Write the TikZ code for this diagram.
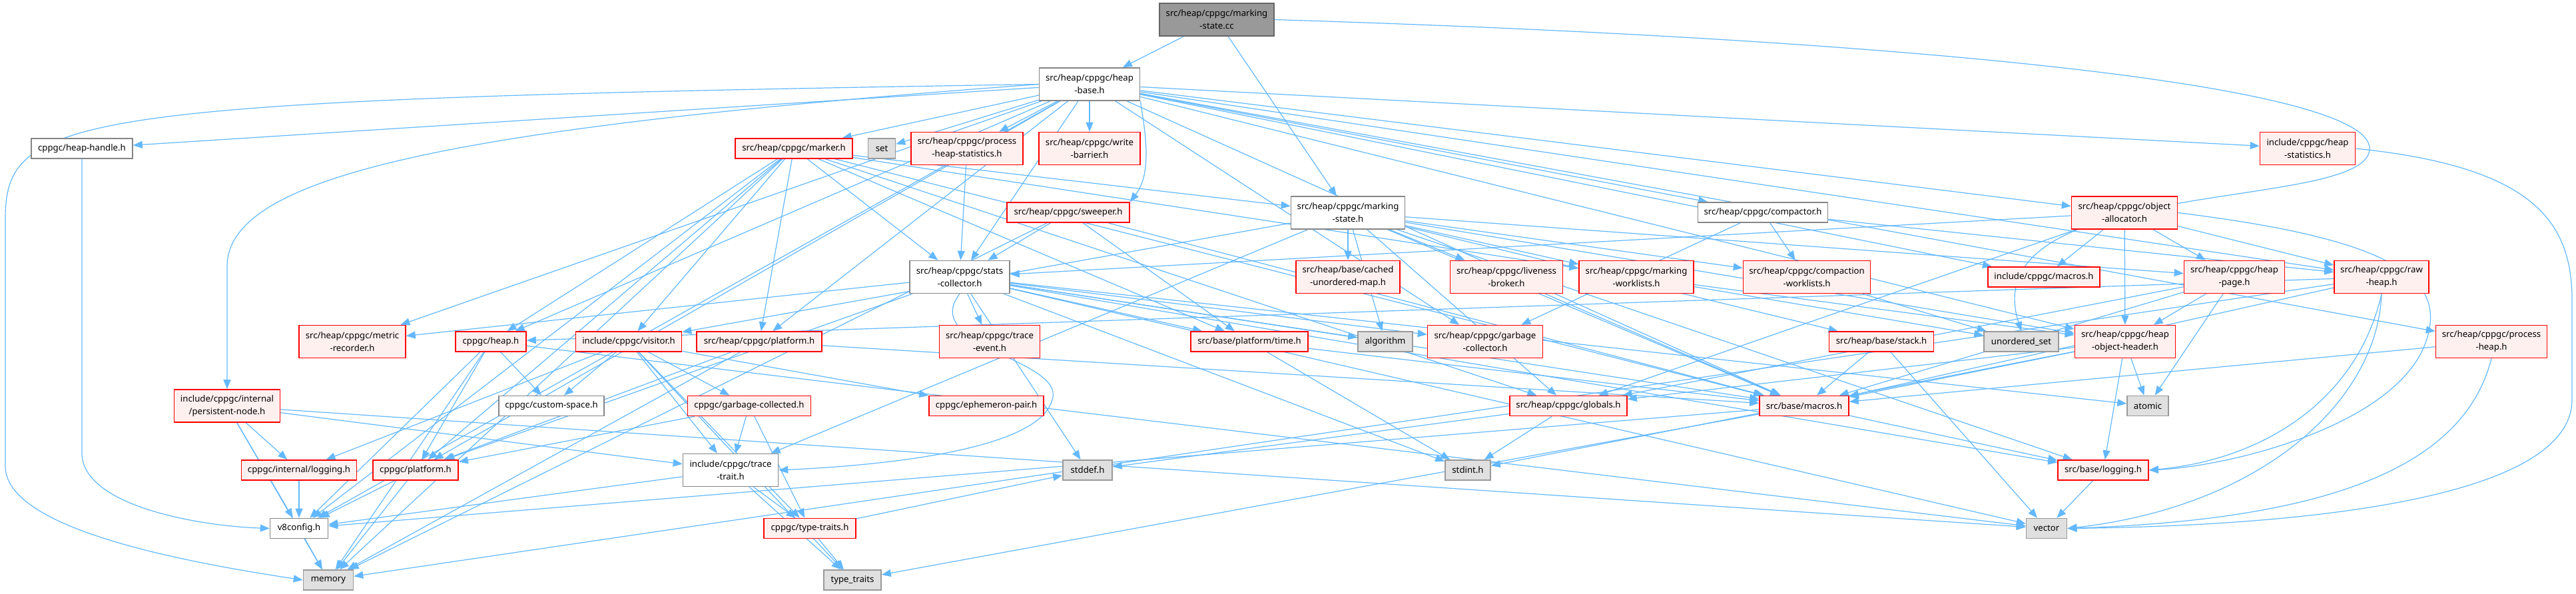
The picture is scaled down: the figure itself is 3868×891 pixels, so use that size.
\documentclass[tikz,border=0pt]{standalone}
\usepackage{fontspec}
\setmainfont{Noto Sans}
\usetikzlibrary{arrows.meta,backgrounds}

\definecolor{edgeblue}{HTML}{63B8FF}
\definecolor{redfill}{HTML}{FFF0F0}
\definecolor{grayfill}{HTML}{E0E0E0}
\definecolor{grayline}{HTML}{999999}
\definecolor{rootfill}{HTML}{999999}
\definecolor{rootline}{HTML}{666666}

\begin{document}
\begin{tikzpicture}[x=0.5pt,y=-0.5pt,>={Triangle[length=7pt,width=5.5pt]},
  every node/.style={font=\fontsize{6.6}{9.5}\selectfont,align=center,inner sep=0pt,minimum height=15pt,line width=0.8pt},
  filebox/.style={draw=rootline!80,fill=white},
  redbox/.style={draw=red,fill=redfill},
  sysbox/.style={draw=grayline,fill=grayfill},
  rootbox/.style={draw=rootline,fill=rootfill},
  tall/.style={minimum height=24.5pt},
  dep/.style={->,draw=edgeblue,line width=0.6pt}]
\useasboundingbox (0,0) rectangle (3868,891);

% files
\node[rootbox,tall,minimum width=86pt] (cc) at (1827,29.5) {src/heap/cppgc/marking\\-state.cc};
\node[filebox,tall,minimum width=75.5pt] (hbase) at (1636,126.5) {src/heap/cppgc/heap\\-base.h};
\node[filebox,minimum width=76pt] (hhandle) at (123,223) {cppgc/heap-handle.h};
\node[redbox,minimum width=88pt] (marker) at (1192,223) {src/heap/cppgc/marker.h};
\node[sysbox,minimum width=20.5pt] (set) at (1324,223) {set};
\node[redbox,tall,minimum width=84pt] (phstat) at (1452,223) {src/heap/cppgc/process\\-heap-statistics.h};
\node[redbox,tall,minimum width=76pt] (wbar) at (1636,223) {src/heap/cppgc/write\\-barrier.h};
\node[redbox,tall,minimum width=71.5pt] (hstat) at (3465,223) {include/cppgc/heap\\-statistics.h};
\node[redbox,minimum width=92pt] (sweeper) at (1604,319) {src/heap/cppgc/sweeper.h};
\node[filebox,tall,minimum width=85.5pt] (mstate) at (2024,319.5) {src/heap/cppgc/marking\\-state.h};
\node[filebox,minimum width=97.5pt] (compactor) at (2647,319) {src/heap/cppgc/compactor.h};
\node[redbox,tall,minimum width=79.5pt] (objalloc) at (3190,319.5) {src/heap/cppgc/object\\-allocator.h};
\node[filebox,tall,minimum width=75pt] (stats) at (1441,416) {src/heap/cppgc/stats\\-collector.h};
\node[redbox,tall,minimum width=78pt] (cmap) at (2024,416) {src/heap/base/cached\\-unordered-map.h};
\node[redbox,tall,minimum width=84.5pt] (live) at (2262,416) {src/heap/cppgc/liveness\\-broker.h};
\node[redbox,tall,minimum width=86pt] (mwl) at (2457,416) {src/heap/cppgc/marking\\-worklists.h};
\node[redbox,tall,minimum width=95.5pt] (cwl) at (2713,416) {src/heap/cppgc/compaction\\-worklists.h};
\node[redbox,minimum width=84pt] (imacros) at (3069,416) {include/cppgc/macros.h};
\node[redbox,tall,minimum width=75.5pt] (hpage) at (3355,416) {src/heap/cppgc/heap\\-page.h};
\node[redbox,tall,minimum width=71pt] (rawheap) at (3576,416) {src/heap/cppgc/raw\\-heap.h};
\node[redbox,tall,minimum width=80pt] (metric) at (529,513) {src/heap/cppgc/metric\\-recorder.h};
\node[redbox,minimum width=53pt] (heaph) at (737,513) {cppgc/heap.h};
\node[redbox,minimum width=79.5pt] (visitor) at (944,513) {include/cppgc/visitor.h};
\node[redbox,minimum width=94pt] (splat) at (1140,513) {src/heap/cppgc/platform.h};
\node[redbox,tall,minimum width=75.5pt] (tevent) at (1486,513) {src/heap/cppgc/trace\\-event.h};
\node[redbox,minimum width=88pt] (time) at (1876,513) {src/base/platform/time.h};
\node[sysbox,minimum width=41pt] (algorithm) at (2080,513) {algorithm};
\node[redbox,tall,minimum width=86.5pt] (gcollector) at (2230,513) {src/heap/cppgc/garbage\\-collector.h};
\node[redbox,minimum width=78.5pt] (stack) at (2825,513) {src/heap/base/stack.h};
\node[sysbox,minimum width=56pt] (uset) at (3035,513) {unordered\_set};
\node[redbox,tall,minimum width=75.5pt] (hoh) at (3191,513) {src/heap/cppgc/heap\\-object-header.h};
\node[redbox,tall,minimum width=83.5pt] (pheap) at (3741,513) {src/heap/cppgc/process\\-heap.h};
\node[redbox,tall,minimum width=79.5pt] (pnode) at (341,609.5) {include/cppgc/internal\\/persistent-node.h};
\node[filebox,minimum width=79pt] (custom) at (828,609.5) {cppgc/custom-space.h};
\node[redbox,minimum width=92.5pt] (gcoll) at (1125,609.5) {cppgc/garbage-collected.h};
\node[redbox,minimum width=86pt] (ephem) at (1481,609.5) {cppgc/ephemeron-pair.h};
\node[redbox,minimum width=88pt] (globals) at (2355,609.5) {src/heap/cppgc/globals.h};
\node[redbox,minimum width=67pt] (bmacros) at (2709,609.5) {src/base/macros.h};
\node[sysbox,minimum width=31pt] (atomic) at (3225,609.5) {atomic};
\node[redbox,minimum width=86.5pt] (ilog) at (449,706) {cppgc/internal/logging.h};
\node[redbox,minimum width=64pt] (cplat) at (624,706) {cppgc/platform.h};
\node[filebox,tall,minimum width=71.5pt] (trace) at (1097,706) {include/cppgc/trace\\-trait.h};
\node[sysbox,minimum width=37pt] (stddef) at (1633,706) {stddef.h};
\node[sysbox,minimum width=34pt] (stdint) at (2204,706) {stdint.h};
\node[redbox,minimum width=68pt] (blog) at (3158,706) {src/base/logging.h};
\node[filebox,minimum width=43.5pt] (v8cfg) at (449,793.5) {v8config.h};
\node[redbox,minimum width=69pt] (ttraits) at (1216,793.5) {cppgc/type-traits.h};
\node[sysbox,minimum width=30.5pt] (vector) at (3073,793.5) {vector};
\node[sysbox,minimum width=37.5pt] (memory) at (493,871) {memory};
\node[sysbox,minimum width=43pt] (typetr) at (1280,871) {type\_traits};

% includes
\begin{pgfonlayer}{background}
\foreach \dst in {hbase,mstate} \draw[dep] (cc) -- (\dst);
\draw[dep] (cc.east) .. controls (2900,60) and (3558,130) .. (3558,223)
  .. controls (3558,320) and (2960,260) .. (uset.north);
\foreach \dst in {hhandle,heaph,metric,marker,set,phstat,wbar,stats,splat,compactor,objalloc,imacros,hstat,rawheap,pheap,gcollector,hoh,bmacros,cplat,v8cfg}
  \draw[dep] (hbase) -- (\dst);
\draw[dep] (hbase.south east) .. controls (1720,200) and (1730,260) .. (sweeper.north east);
\draw[dep] (hbase.west) .. controls (100,150) and (8,170) .. (8,330) -- (8,700)
  .. controls (8,790) and (250,840) .. (memory.west);
\draw[dep] (hbase.west) .. controls (700,190) and (341,260) .. (341,400) -- (pnode.north);
\draw[dep] (hhandle.south) -- (123,680) .. controls (123,760) and (300,790) .. (v8cfg.west);
\foreach \dst in {heaph,visitor,splat,memory,bmacros,time,globals,mstate,mwl,stats,cplat,v8cfg}
  \draw[dep] (marker) -- (\dst);
\foreach \dst in {cmap,live,mwl,cwl,algorithm,globals,hoh,hpage,stack,bmacros,blog,visitor,trace}
  \draw[dep] (mstate) -- (\dst);
\foreach \dst in {stats,memory,bmacros,time} \draw[dep] (sweeper) -- (\dst);
\draw[dep] (phstat) -- (stats);
\foreach \dst in {metric,tevent,time,algorithm,gcollector,stddef,stdint,atomic,vector,cplat,bmacros,blog}
  \draw[dep] (stats) -- (\dst);
\draw[dep] (stats.south) .. controls (1380,520) and (1600,540) .. (1580,600)
  .. controls (1560,680) and (1300,700) .. (trace.east);
\foreach \dst in {cwl,gcollector,rawheap} \draw[dep] (compactor) -- (\dst);
\foreach \dst in {imacros,hpage,rawheap,hoh,globals,stats} \draw[dep] (objalloc) -- (\dst);
\draw[dep] (objalloc.east) .. controls (3600,360) and (3680,420) .. (3640,520)
  .. controls (3590,640) and (3350,700) .. (blog.east);
\draw[dep] (hstat.east) .. controls (3800,250) and (3862,330) .. (3862,450) -- (3862,600)
  .. controls (3862,760) and (3400,790) .. (vector.east);
\foreach \dst in {atomic,hoh,bmacros,globals} \draw[dep] (hpage) -- (\dst);
\foreach \dst in {memory,heaph,bmacros} \draw[dep] (rawheap) -- (\dst);
\draw[dep] (rawheap.south) .. controls (3570,600) and (3400,760) .. (vector.east);
\draw[dep] (rawheap.south) .. controls (3540,600) and (3400,690) .. (blog.east);
\draw[dep] (pheap) -- (bmacros);
\draw[dep] (pheap.south) .. controls (3700,700) and (3500,780) .. (vector.east);
\foreach \dst in {stdint,atomic,blog,bmacros,globals} \draw[dep] (hoh) -- (\dst);
\foreach \dst in {bmacros,vector} \draw[dep] (stack) -- (\dst);
\foreach \dst in {stddef,stdint} \draw[dep] (globals) -- (\dst);
\foreach \dst in {blog,typetr,v8cfg} \draw[dep] (bmacros) -- (\dst);
\draw[dep] (blog) -- (vector);
\foreach \dst in {custom,cplat,memory,vector,v8cfg} \draw[dep] (heaph) -- (\dst);
\foreach \dst in {custom,ephem,gcoll,ilog,trace,ttraits,typetr} \draw[dep] (visitor) -- (\dst);
\foreach \dst in {cplat,bmacros,memory} \draw[dep] (splat) -- (\dst);
\foreach \dst in {cplat,trace,ttraits} \draw[dep] (gcoll) -- (\dst);
\foreach \dst in {ttraits,typetr,v8cfg} \draw[dep] (trace) -- (\dst);
\foreach \dst in {typetr,stddef} \draw[dep] (ttraits) -- (\dst);
\foreach \dst in {ilog,trace,memory,vector,v8cfg} \draw[dep] (pnode) -- (\dst);
\draw[dep] (ilog) -- (v8cfg);
\foreach \dst in {v8cfg,memory} \draw[dep] (cplat) -- (\dst);
\draw[dep] (v8cfg) -- (memory);
\foreach \dst in {stdint,bmacros} \draw[dep] (time) -- (\dst);
\draw[dep] (live) -- (bmacros);
\foreach \dst in {uset,hoh} \draw[dep] (mwl) -- (\dst);
\draw[dep] (cwl) -- (uset);
\end{pgfonlayer}
\end{tikzpicture}
\end{document}
